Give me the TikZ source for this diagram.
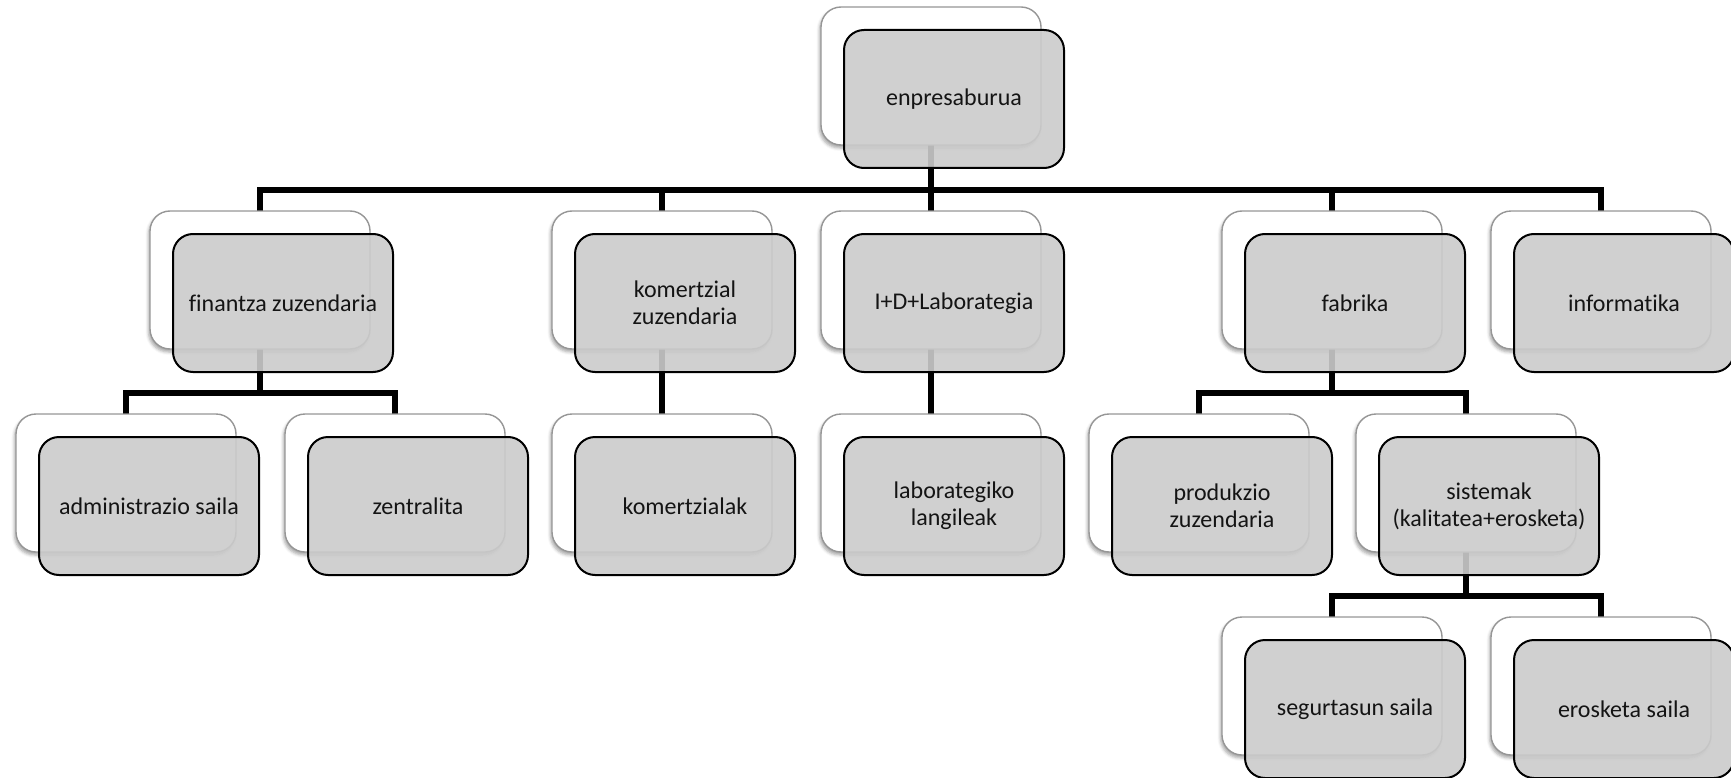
\documentclass[tikz,border=0pt]{standalone}
\usepackage{fontspec}
\setmainfont{Carlito}[Ligatures=NoCommon]
\usetikzlibrary{calc,shadows.blur}
\pgfdeclarelayer{bg}
\pgfsetlayers{bg,main}

\definecolor{backline}{RGB}{150,150,150}
\definecolor{frontfill}{RGB}{203,203,203}
\definecolor{inktext}{RGB}{20,20,20}

\tikzset{
  backbox/.style={draw=backline, line width=1.4pt, fill=white,
    rounded corners=20pt, minimum width=220pt, minimum height=138pt,
    inner sep=0pt, outer sep=0pt,
    blur shadow={shadow xshift=-1.5pt, shadow yshift=-3pt,
      shadow blur radius=3pt, shadow opacity=35}},
  frontbox/.style={draw=black, line width=2pt, fill=frontfill, fill opacity=0.9,
    text opacity=1, text=inktext,
    rounded corners=20pt, minimum width=220pt, minimum height=138pt,
    inner sep=0pt, outer sep=0pt, align=center,
    font=\fontsize{24}{27}\selectfont},
  conn/.style={line width=6pt, draw=black}
}

% one unit per pixel, y growing downwards
\newcommand\orgbox[4]{%
  \node[backbox] (#1-b) at (#2,#3) {};
  \node[frontbox] (#1) at ($(#1-b)+(23,23)$) {#4};
}

\begin{document}
\begin{tikzpicture}[x=1pt,y=-1pt]
\useasboundingbox (0,0) rectangle (1731,778);

% level 0
\orgbox{top}{931}{76}{enpresaburua}
% level 1
\orgbox{fin}{260}{280}{finantza zuzendaria}
\orgbox{kom}{662}{280}{komertzial\\zuzendaria}
\orgbox{id}{931}{280}{I+D+Laborategia}
\orgbox{fab}{1332}{280}{fabrika}
\orgbox{inf}{1601}{280}{informatika}
% level 2
\orgbox{adm}{126}{483}{administrazio saila}
\orgbox{zen}{395}{483}{zentralita}
\orgbox{koms}{662}{483}{komertzialak}
\orgbox{lab}{931}{483}{laborategiko\\langileak}
\orgbox{prod}{1199}{483}{produkzio\\zuzendaria}
\orgbox{sis}{1466}{483}{sistemak\\(kalitatea+erosketa)}
% level 3
\orgbox{seg}{1332}{686}{segurtasun saila}
\orgbox{ero}{1601}{686}{erosketa saila}

% elbow connectors, kept behind the boxes
\begin{pgfonlayer}{bg}
  \foreach \c in {fin,kom,id,fab,inf}
    \draw[conn] (top-b.south) -- ++(0,45) -| (\c-b.north);
  \foreach \c in {adm,zen}
    \draw[conn] (fin-b.south) -- ++(0,44) -| (\c-b.north);
  \draw[conn] (kom-b.south) -- (koms-b.north);
  \draw[conn] (id-b.south) -- (lab-b.north);
  \foreach \c in {prod,sis}
    \draw[conn] (fab-b.south) -- ++(0,44) -| (\c-b.north);
  \foreach \c in {seg,ero}
    \draw[conn] (sis-b.south) -- ++(0,44) -| (\c-b.north);
\end{pgfonlayer}
\end{tikzpicture}
\end{document}
